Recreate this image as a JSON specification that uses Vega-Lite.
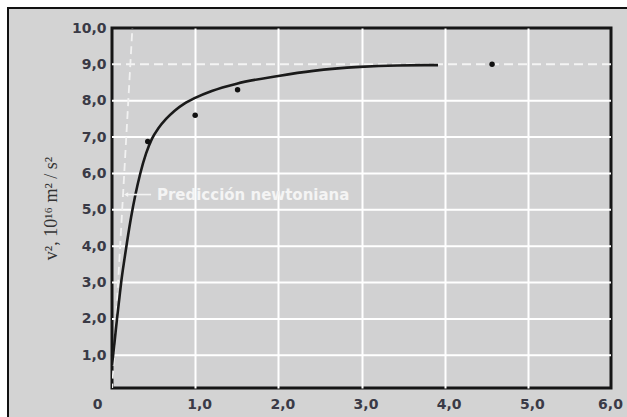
{
  "$schema": "https://vega.github.io/schema/vega-lite/v6.json",
  "width": 499,
  "height": 360,
  "autosize": "none",
  "padding": {"left": 112, "top": 28, "right": 16, "bottom": 29},
  "background": "#d3d3d3",
  "view": {"stroke": "#151515", "strokeWidth": 3, "fill": "#d1d1d2"},
  "config": {
    "axis": {"labelFlush": false, "labelOverlap": false}
  },
  "datasets": {
    "curve": [
      {"x": 0.0, "y": 0.72},
      {"x": 0.03, "y": 1.35},
      {"x": 0.06, "y": 2.0},
      {"x": 0.09, "y": 2.6},
      {"x": 0.11, "y": 3.0},
      {"x": 0.15, "y": 3.65},
      {"x": 0.18, "y": 4.1},
      {"x": 0.23, "y": 4.8},
      {"x": 0.28, "y": 5.4},
      {"x": 0.34, "y": 6.0},
      {"x": 0.41, "y": 6.55},
      {"x": 0.48, "y": 6.95},
      {"x": 0.56, "y": 7.25},
      {"x": 0.65, "y": 7.5},
      {"x": 0.75, "y": 7.72},
      {"x": 0.87, "y": 7.92},
      {"x": 1.0, "y": 8.08},
      {"x": 1.2, "y": 8.27},
      {"x": 1.5, "y": 8.47},
      {"x": 2.0, "y": 8.68},
      {"x": 2.42, "y": 8.82},
      {"x": 2.98, "y": 8.93},
      {"x": 3.43, "y": 8.97},
      {"x": 3.92, "y": 8.98}
    ],
    "measured": [
      {"x": 0.43, "y": 6.88},
      {"x": 1.0, "y": 7.6},
      {"x": 1.51, "y": 8.3},
      {"x": 4.57, "y": 9.0}
    ],
    "newton": [
      {"x": 0.0, "y": 0.0},
      {"x": 0.245, "y": 10.0}
    ],
    "hgrid": [
      {"y": 1}, {"y": 2}, {"y": 3}, {"y": 4}, {"y": 5}, {"y": 6}, {"y": 7}, {"y": 8}
    ],
    "limit": [
      {"y": 9}
    ],
    "note": [
      {"x": 0.17, "x2": 0.47, "y": 5.42, "tx": 0.54, "label": "Predicción newtoniana"}
    ],
    "blank": [{}]
  },
  "layer": [
    {
      "data": {"name": "hgrid"},
      "mark": {"type": "rule", "color": "#ffffff", "strokeWidth": 2},
      "encoding": {
        "y": {
          "field": "y", "type": "quantitative", "scale": {"domain": [0.1, 10], "nice": false},
          "axis": {
            "title": "v², 10¹⁶ m² / s²",
            "values": [1, 2, 3, 4, 5, 6, 7, 8, 9, 10],
            "tickCount": 20,
            "labelExpr": "replace(format(datum.value, '.1f'), '.', ',')",
            "labelOverlap": false, "labelFlush": false,
            "grid": false,
            "domain": false, "ticks": false, "labelPadding": 6,
            "labelFont": "DejaVu Sans", "labelFontWeight": "bold", "labelFontSize": 14, "labelColor": "#3a3a46",
            "titleFont": "Liberation Serif", "titleFontWeight": "normal", "titleFontSize": 18, "titleColor": "#333333", "titlePadding": 11
          }
        }
      }
    },
    {
      "data": {"name": "limit"},
      "mark": {"type": "rule", "color": "#f4f4f4", "strokeWidth": 2, "strokeDash": [9, 5]},
      "encoding": {
        "y": {"field": "y", "type": "quantitative", "scale": {"domain": [0.1, 10], "nice": false}}
      }
    },
    {
      "data": {"name": "newton"},
      "mark": {"type": "line", "clip": true, "color": "#f2f2f2", "strokeWidth": 1.8, "strokeDash": [8, 5]},
      "encoding": {
        "x": {
          "field": "x", "type": "quantitative", "scale": {"domain": [0, 6]},
          "axis": {
            "title": null,
            "values": [0, 1, 2, 3, 4, 5, 6],
            "tickCount": 20,
            "labelExpr": "datum.value === 0 ? '0' : replace(format(datum.value, '.1f'), '.', ',')",
            "labelOffset": {"condition": [{"test": "datum.value === 0", "value": -15}, {"test": "datum.value === 6", "value": -1}], "value": 4},
            "labelOverlap": false, "labelFlush": false,
            "grid": true, "gridColor": "#ffffff", "gridWidth": 2,
            "gridOpacity": {"condition": {"test": "datum.value === 0 || datum.value === 6", "value": 0}, "value": 1},
            "domain": false, "ticks": false, "labelPadding": 9,
            "labelFont": "DejaVu Sans", "labelFontWeight": "bold", "labelFontSize": 14, "labelColor": "#3a3a46"
          }
        },
        "y": {"field": "y", "type": "quantitative", "scale": {"domain": [0.1, 10], "nice": false}}
      }
    },
    {
      "data": {"name": "curve"},
      "mark": {"type": "line", "clip": true, "color": "#1a1a1a", "strokeWidth": 2.6, "interpolate": "monotone"},
      "encoding": {
        "x": {"field": "x", "type": "quantitative", "scale": {"domain": [0, 6]}},
        "y": {"field": "y", "type": "quantitative", "scale": {"domain": [0.1, 10], "nice": false}}
      }
    },
    {
      "data": {"name": "measured"},
      "mark": {"type": "point", "filled": true, "color": "#111111", "opacity": 1, "size": 30},
      "encoding": {
        "x": {"field": "x", "type": "quantitative", "scale": {"domain": [0, 6]}},
        "y": {"field": "y", "type": "quantitative", "scale": {"domain": [0.1, 10], "nice": false}}
      }
    },
    {
      "data": {"name": "note"},
      "mark": {"type": "rule", "color": "#f4f4f4", "strokeWidth": 1.6},
      "encoding": {
        "x": {"field": "x", "type": "quantitative", "scale": {"domain": [0, 6]}},
        "x2": {"field": "x2"},
        "y": {"field": "y", "type": "quantitative", "scale": {"domain": [0.1, 10], "nice": false}}
      }
    },
    {
      "data": {"name": "note"},
      "mark": {"type": "point", "shape": "triangle-left", "filled": true, "color": "#f4f4f4", "opacity": 1, "size": 22},
      "encoding": {
        "x": {"field": "x", "type": "quantitative", "scale": {"domain": [0, 6]}},
        "y": {"field": "y", "type": "quantitative", "scale": {"domain": [0.1, 10], "nice": false}}
      }
    },
    {
      "data": {"name": "note"},
      "mark": {"type": "text", "align": "left", "baseline": "middle", "font": "DejaVu Sans", "fontWeight": "bold", "fontSize": 15, "color": "#f4f4f4"},
      "encoding": {
        "x": {"field": "tx", "type": "quantitative", "scale": {"domain": [0, 6]}},
        "y": {"field": "y", "type": "quantitative", "scale": {"domain": [0.1, 10], "nice": false}},
        "text": {"field": "label"}
      }
    },
    {
      "data": {"name": "blank"},
      "mark": {"type": "rect", "clip": false, "fillOpacity": 0, "stroke": "white", "strokeWidth": 8},
      "encoding": {
        "x": {"datum": -1.3046, "type": "quantitative", "scale": {"domain": [0, 6]}},
        "x2": {"datum": 6.9},
        "y": {"datum": 10.674, "type": "quantitative", "scale": {"domain": [0.1, 10], "nice": false}},
        "y2": {"datum": -1.5}
      }
    },
    {
      "data": {"name": "blank"},
      "mark": {"type": "rect", "clip": false, "fillOpacity": 0, "stroke": "#111111", "strokeWidth": 2},
      "encoding": {
        "x": {"datum": -1.2505, "type": "quantitative", "scale": {"domain": [0, 6]}},
        "x2": {"datum": 6.9},
        "y": {"datum": 10.55, "type": "quantitative", "scale": {"domain": [0.1, 10], "nice": false}},
        "y2": {"datum": -1.5}
      }
    }
  ]
}
